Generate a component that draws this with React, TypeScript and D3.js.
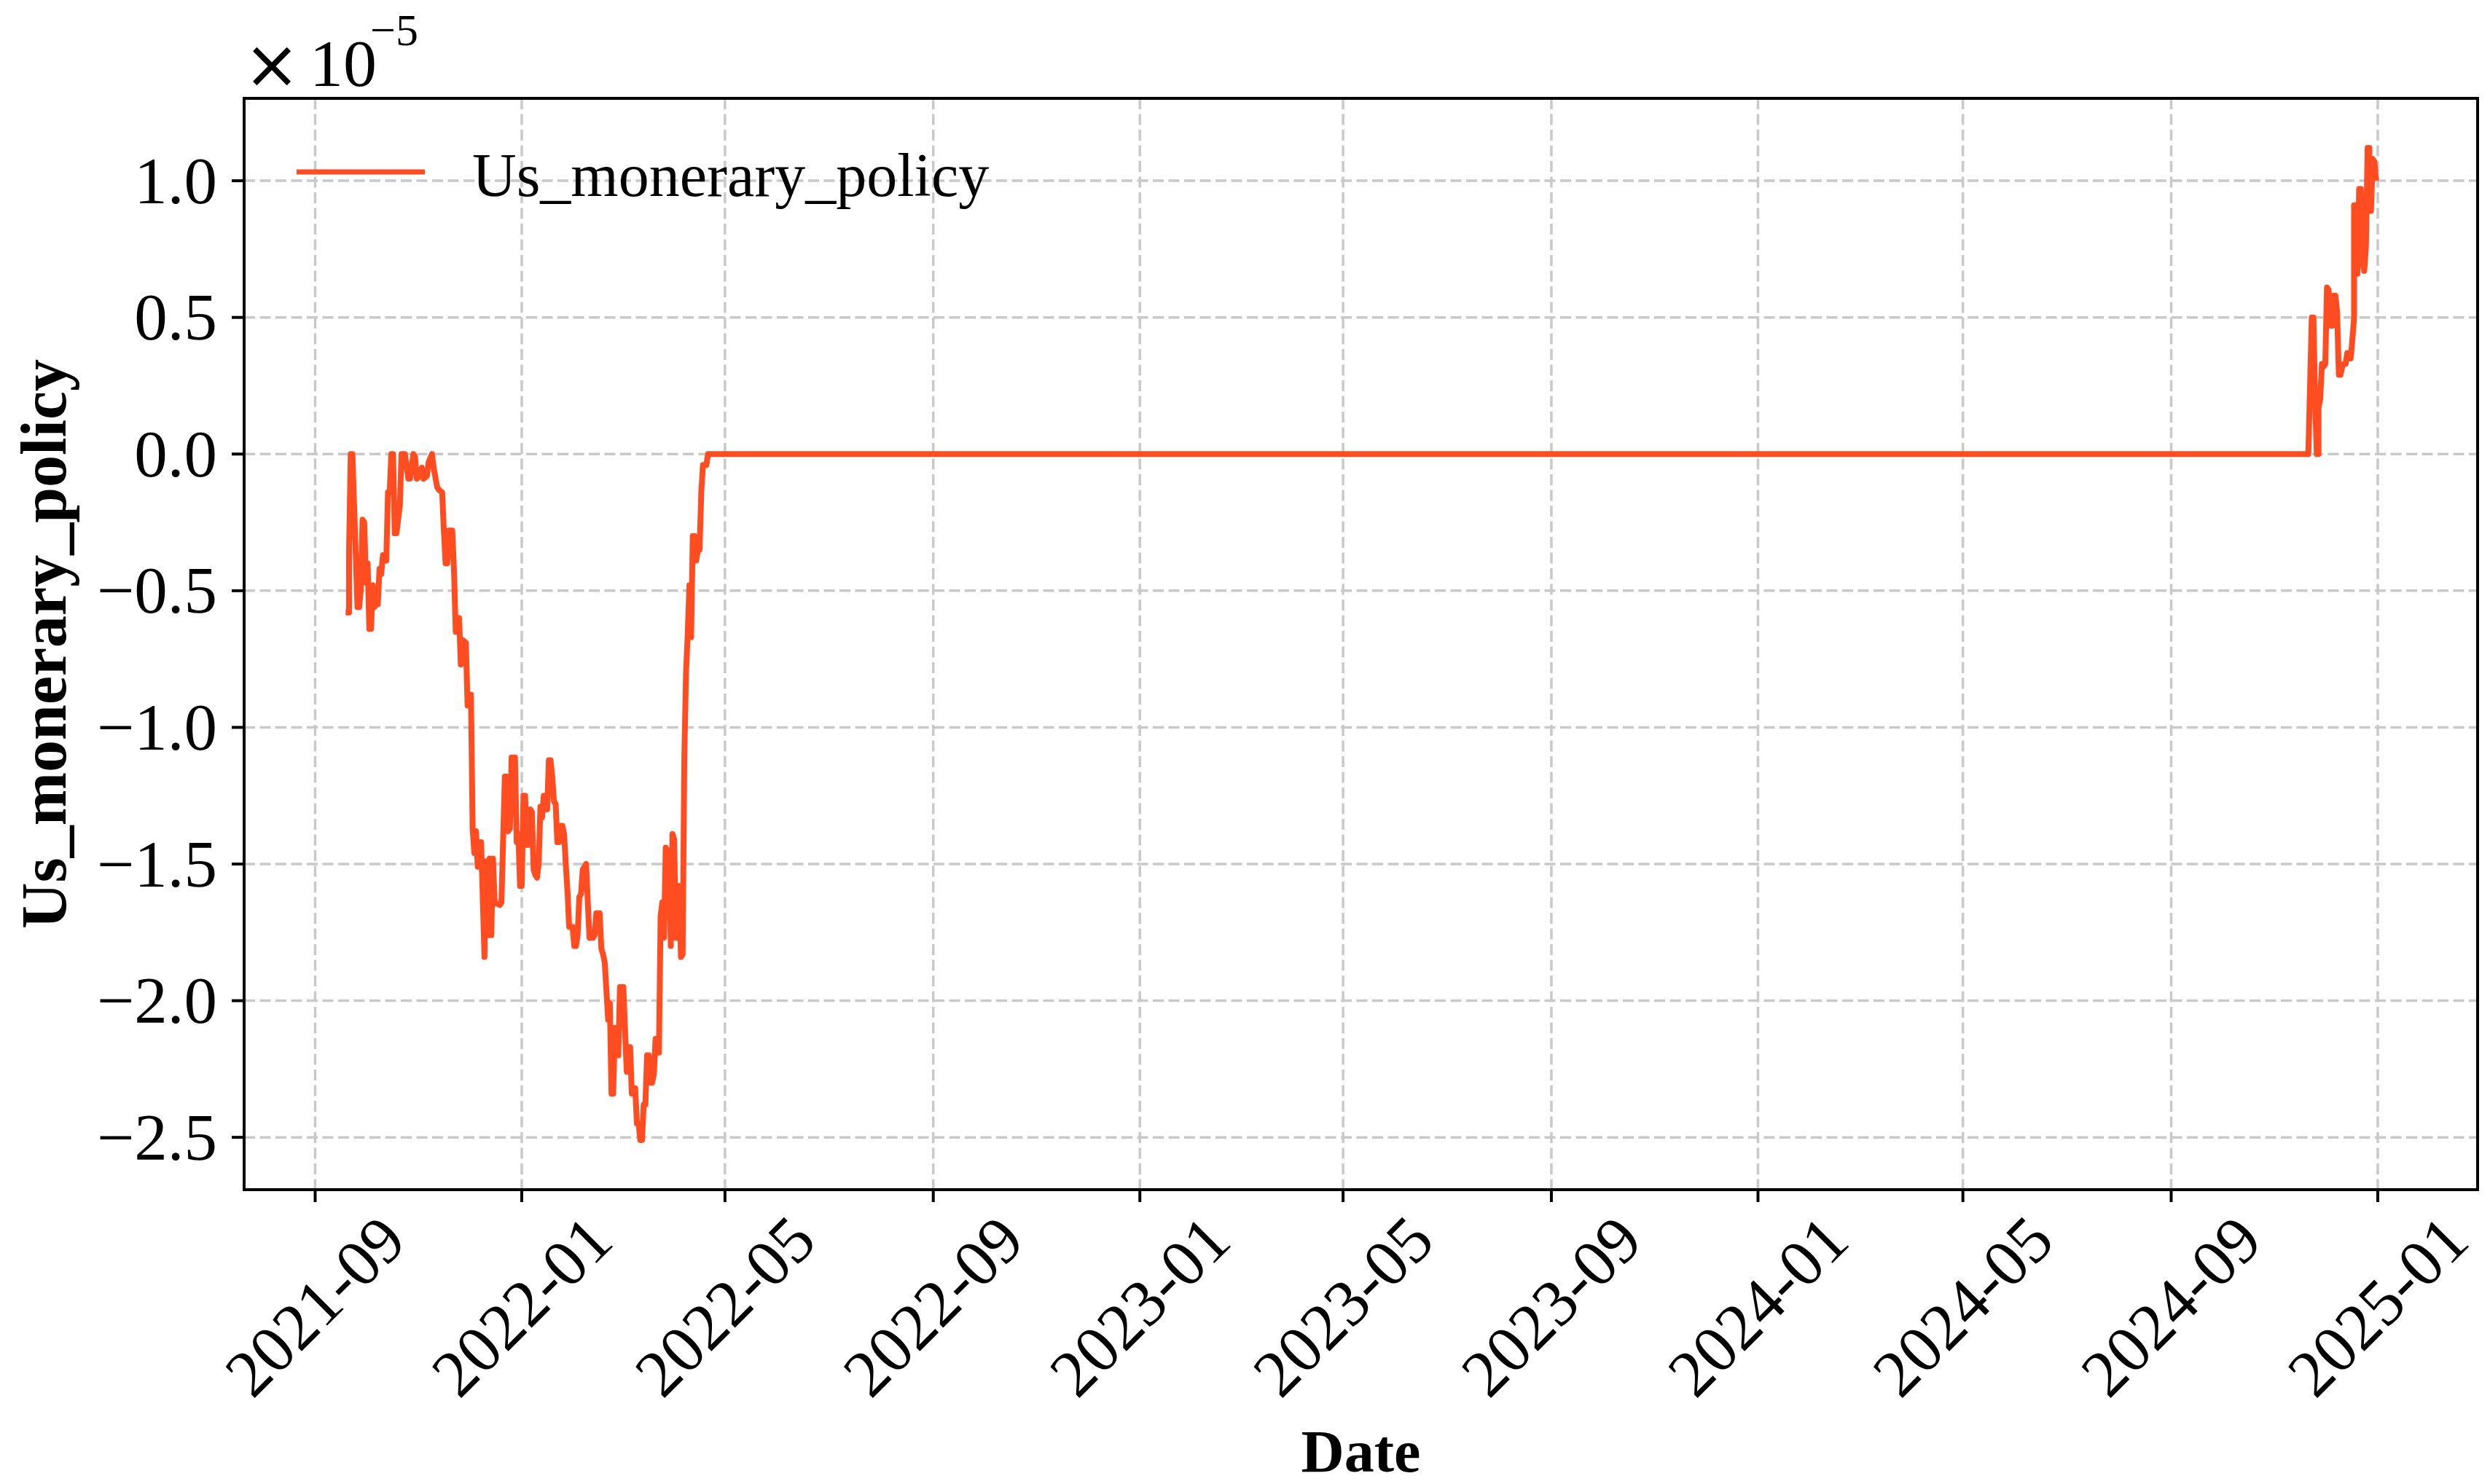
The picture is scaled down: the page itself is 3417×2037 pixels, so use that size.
import * as d3 from 'd3';

// chart of the Us_monerary_policy factor (units of 1e-5)

const WIDTH = 3417;
const HEIGHT = 2037;
const MARGIN = { top: 135, right: 17, bottom: 404, left: 335 };

const SERIES_NAME = 'Us_monerary_policy';
const LINE_COLOR = '#ff4d21';

// day index counted from 2021-09-01
const START = new Date(2021, 8, 1);

const earlyDays = [
    18, 20, 20, 21, 22, 25, 26, 27, 28, 29, 30, 31, 32, 33, 34, 35, 36, 37, 38, 39, 40, 42, 43, 44, 45, 46, 47, 48, 50, 51,
    53, 55, 56, 58, 59, 60, 62, 63, 64, 66, 67, 69, 70, 72, 73, 75, 76, 77, 78, 79, 81, 82, 83, 85, 86, 87, 89, 90, 91, 92,
    93, 94, 95, 96, 97, 98, 100, 101, 102, 103, 104, 105, 106, 109, 110, 112, 113, 114, 115, 116, 118, 119, 120, 121, 122,
    123, 124, 125, 126, 127, 128, 129, 130, 131, 132, 133, 134, 135, 136, 137, 138, 139, 140, 141, 142, 143, 144, 145, 146,
    147, 148, 149, 150, 152, 153, 154, 155, 156, 157, 158, 160, 161, 162, 164, 165, 166, 168, 169, 170, 171, 173, 174, 175,
    176, 177, 178, 179, 180, 182, 183, 184, 185, 186, 187, 188, 189, 190, 191, 192, 193, 194, 195, 196, 197, 198, 199, 200,
    201, 202, 203, 204, 205, 206, 207, 208, 209, 210, 211, 212, 213, 214, 215, 216, 217, 218, 219, 220, 221, 222, 223, 224,
    225, 226, 227, 228, 229, 230, 231, 232,
];
const earlyValues = [
    -0.58, -0.58, -0.36, 0, 0, -0.56, -0.56, -0.49, -0.24, -0.25, -0.47, -0.4, -0.64, -0.64, -0.48, -0.56, -0.51, -0.55,
    -0.42, -0.44, -0.37, -0.39, -0.14, -0.14, 0, 0, -0.29, -0.29, -0.19, 0, 0, -0.09, -0.09, 0, -0.01, -0.09, -0.08, -0.05,
    -0.09, -0.08, -0.03, 0, -0.05, -0.12, -0.13, -0.14, -0.28, -0.4, -0.4, -0.28, -0.28, -0.43, -0.65, -0.6, -0.77, -0.68,
    -0.69, -0.92, -0.88, -0.88, -1.37, -1.46, -1.38, -1.51, -1.42, -1.42, -1.84, -1.49, -1.76, -1.48, -1.76, -1.48, -1.64,
    -1.65, -1.64, -1.18, -1.18, -1.38, -1.37, -1.11, -1.11, -1.42, -1.39, -1.58, -1.58, -1.25, -1.25, -1.43, -1.43, -1.3,
    -1.31, -1.52, -1.54, -1.55, -1.5, -1.29, -1.33, -1.25, -1.25, -1.3, -1.12, -1.12, -1.18, -1.27, -1.28, -1.42, -1.42,
    -1.36, -1.36, -1.39, -1.5, -1.6, -1.73, -1.73, -1.8, -1.8, -1.76, -1.62, -1.61, -1.52, -1.5, -1.64, -1.77, -1.77, -1.76,
    -1.68, -1.68, -1.81, -1.83, -1.86, -2.07, -2.01, -2.34, -2.34, -2.1, -2.2, -2.2, -1.95, -1.95, -2.11, -2.26, -2.17,
    -2.17, -2.34, -2.32, -2.32, -2.45, -2.45, -2.51, -2.51, -2.38, -2.38, -2.2, -2.2, -2.3, -2.3, -2.27, -2.14, -2.14, -2.19,
    -1.69, -1.64, -1.77, -1.44, -1.65, -1.45, -1.8, -1.39, -1.41, -1.77, -1.71, -1.58, -1.84, -1.83, -1.11, -0.8, -0.66,
    -0.48, -0.67, -0.3, -0.3, -0.39, -0.35, -0.35, -0.14, -0.04, -0.04, -0.04, 0,
];

const lateDays = [
    1177, 1179, 1180, 1181, 1182, 1183, 1183, 1184, 1185, 1186, 1187, 1188, 1189, 1190, 1191, 1192, 1193, 1194, 1195, 1196,
    1197, 1198, 1199, 1200, 1201, 1202, 1203, 1204, 1204, 1206, 1206, 1207, 1208, 1209, 1210, 1211, 1212, 1213, 1213, 1214,
    1215, 1216, 1217,
];
const lateValues = [
    0, 0.5, 0.5, 0.19, 0, 0, 0.17, 0.2, 0.33, 0.32, 0.33, 0.61, 0.6, 0.47, 0.47, 0.58, 0.58, 0.52, 0.29, 0.29, 0.32, 0.33,
    0.33, 0.37, 0.35, 0.35, 0.42, 0.5, 0.91, 0.91, 0.66, 0.97, 0.97, 0.71, 0.67, 0.76, 1.12, 1.12, 0.89, 0.89, 1.08, 1.07,
    1.0,
];

const xTickLabels = [
    '2021-09', '2022-01', '2022-05', '2022-09', '2023-01', '2023-05',
    '2023-09', '2024-01', '2024-05', '2024-09', '2025-01',
];
const yTicks = [-2.5, -2.0, -1.5, -1.0, -0.5, 0.0, 0.5, 1.0];

const FONT = "'Liberation Serif', 'Times New Roman', serif";

type Point = { date: Date; value: number };

const points: Point[] = [...earlyDays.map((d, i) => ({ d, v: earlyValues[i] })), ...lateDays.map((d, i) => ({ d, v: lateValues[i] }))].map(
    (p) => ({ date: d3.timeDay.offset(START, p.d), value: p.v })
);

// matplotlib style 5% padding on both axes
const pad = (lo: number, hi: number) => {
    const m = (hi - lo) * 0.05;
    return [lo - m, hi + m];
};

export default function App() {
    const boundsWidth = WIDTH - MARGIN.left - MARGIN.right;
    const boundsHeight = HEIGHT - MARGIN.top - MARGIN.bottom;
    const x0 = MARGIN.left;
    const x1 = MARGIN.left + boundsWidth;
    const y0 = MARGIN.top;
    const y1 = MARGIN.top + boundsHeight;

    const tExtent = d3.extent(points, (p) => +p.date) as [number, number];
    const vExtent = d3.extent(points, (p) => p.value) as [number, number];
    const [tLo, tHi] = pad(tExtent[0], tExtent[1]);
    const [vLo, vHi] = pad(vExtent[0], vExtent[1]);

    const xScale = d3.scaleTime().domain([new Date(tLo), new Date(tHi)]).range([x0, x1]);
    const yScale = d3.scaleLinear().domain([vLo, vHi]).range([y1, y0]);

    const parseMonth = d3.timeParse('%Y-%m');
    const xTicks = xTickLabels.map((s) => ({ label: s, date: parseMonth(s) as Date }));

    const line = d3
        .line<Point>()
        .x((p) => xScale(p.date))
        .y((p) => yScale(p.value));

    const gridStyle = { stroke: '#c9c9c9', strokeWidth: 3.5, strokeDasharray: '15 6.5' };

    return (
        <svg width={WIDTH} height={HEIGHT} style={{ position: 'absolute', left: 0, top: 0, background: '#fff' }}>
            <rect x={0} y={0} width={WIDTH} height={HEIGHT} fill="#fff" />
            {/* grid */}
            {xTicks.map((t) => (
                <line key={'gx' + t.label} x1={xScale(t.date)} x2={xScale(t.date)} y1={y0} y2={y1} {...gridStyle} />
            ))}
            {yTicks.map((v) => (
                <line key={'gy' + v} x1={x0} x2={x1} y1={yScale(v)} y2={yScale(v)} {...gridStyle} />
            ))}

            <path d={line(points) ?? ''} fill="none" stroke={LINE_COLOR} strokeWidth={8} strokeLinejoin="round" />

            {/* frame */}
            <rect x={x0} y={y0} width={boundsWidth} height={boundsHeight} fill="none" stroke="#000" strokeWidth={4} />

            {/* x axis */}
            {xTicks.map((t) => {
                const x = xScale(t.date);
                return (
                    <g key={'xt' + t.label}>
                        <line x1={x} x2={x} y1={y1} y2={y1 + 17} stroke="#000" strokeWidth={4} />
                        <text
                            transform={`translate(${x},${y1 + 160}) rotate(-45)`}
                            textAnchor="middle"
                            dominantBaseline="central"
                            fontFamily={FONT}
                            fontSize={91}
                        >
                            {t.label}
                        </text>
                    </g>
                );
            })}

            {/* y axis */}
            {yTicks.map((v) => {
                const y = yScale(v);
                return (
                    <g key={'yt' + v}>
                        <line x1={x0 - 17} x2={x0} y1={y} y2={y} stroke="#000" strokeWidth={4} />
                        <text x={x0 - 37} y={y} textAnchor="end" dominantBaseline="central" fontFamily={FONT} fontSize={91}>
                            {d3.format('.1f')(v).replace('-', '\u2212')}
                        </text>
                    </g>
                );
            })}

            {/* offset text: x10^-5 */}
            <text x={373} y={88} textAnchor="middle" dominantBaseline="central" fontFamily="'DejaVu Sans', sans-serif" fontSize={92}>
                ×
            </text>
            <text x={425} y={118} fontFamily={FONT} fontSize={92}>
                10
            </text>
            <text x={508} y={62} fontFamily={FONT} fontSize={62}>
                −5
            </text>

            {/* axis labels */}
            <text x={(x0 + x1) / 2} y={2020} textAnchor="middle" fontFamily={FONT} fontWeight="bold" fontSize={82}>
                Date
            </text>
            <text
                transform={`translate(90,${(y0 + y1) / 2}) rotate(-90)`}
                textAnchor="middle"
                fontFamily={FONT}
                fontWeight="bold"
                fontSize={88}
            >
                {SERIES_NAME}
            </text>

            {/* legend */}
            <line x1={407} x2={583} y1={236} y2={236} stroke={LINE_COLOR} strokeWidth={7} />
            <text x={648} y={269} fontFamily={FONT} fontSize={84}>
                {SERIES_NAME}
            </text>
        </svg>
    );
}
